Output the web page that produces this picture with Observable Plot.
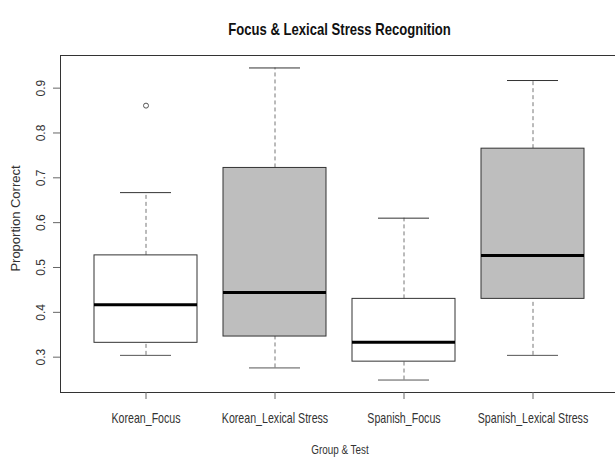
<!DOCTYPE html>
<html>
<head>
<meta charset="utf-8">
<script src="https://cdn.jsdelivr.net/npm/d3@7"></script>
<script src="https://cdn.jsdelivr.net/npm/@observablehq/plot@0.6"></script>
<style>
  html, body { margin: 0; padding: 0; background: #fff; }
  #wrap { position: relative; width: 615px; height: 459px; overflow: hidden; background: #fff; }
  #title { position: absolute; left: 0; top: 21px; width: 679px; text-align: center;
           font-family: "Liberation Sans", Arial, sans-serif; font-weight: bold; font-size: 17px; line-height: 17px; color: #111; }
  #title span { display: inline-block; transform: scaleX(0.77); transform-origin: center; white-space: nowrap; }
  #chart { position: absolute; left: 0; top: 0; }
</style>
</head>
<body>
<div id="wrap">
  <div id="chart"></div>
  <div id="title"><span>Focus &amp; Lexical Stress Recognition</span></div>
</div>
<script>
// Data (boxplot statistics)
const groups = ["Korean_Focus", "Korean_Lexical Stress", "Spanish_Focus", "Spanish_Lexical Stress"];
const whiskerLow  = [0.304, 0.276, 0.249, 0.304];
const quartile1   = [0.332, 0.346, 0.290, 0.430];
const medians     = [0.417, 0.444, 0.333, 0.527];
const quartile3   = [0.527, 0.722, 0.430, 0.765];
const whiskerHigh = [0.667, 0.945, 0.610, 0.917];
const outlierGroups = ["Korean_Focus"];
const outlierValues = [0.861];
const yTicks = [0.3, 0.4, 0.5, 0.6, 0.7, 0.8, 0.9];
const xTitle = "Group & Test";
const yTitle = "Proportion Correct";

const boxes = groups.map((g, i) => ({
  group: g, lo: whiskerLow[i], q1: quartile1[i], med: medians[i], q3: quartile3[i], hi: whiskerHigh[i]
}));
const outliers = outlierGroups.map((g, i) => ({group: g, value: outlierValues[i]}));

const font = "'Liberation Sans', Arial, sans-serif";

const chart = Plot.plot({
  width: 615,
  height: 459,
  marginTop: 55,
  marginBottom: 67,
  marginLeft: 60,
  marginRight: -4,
  style: {fontFamily: font, fontSize: "12px", color: "#333", background: "transparent", maxWidth: "none"},
  x: {domain: groups, paddingInner: 0.2, paddingOuter: 0.26, axis: null},
  y: {domain: [0.2212, 0.9728], axis: null},
  marks: [
    Plot.ruleX(boxes, {x: "group", y1: "q3", y2: "hi", stroke: "#777", strokeDasharray: "4,3"}),
    Plot.ruleX(boxes, {x: "group", y1: "lo", y2: "q1", stroke: "#777", strokeDasharray: "4,3"}),
    Plot.tickY(boxes, {x: "group", y: "hi", stroke: "#333", insetLeft: 26, insetRight: 26}),
    Plot.tickY(boxes, {x: "group", y: "lo", stroke: "#555", insetLeft: 26, insetRight: 26}),
    Plot.barY(boxes, {x: "group", y1: "q1", y2: "q3",
      fill: d => d.group.includes("Lexical") ? "#bebebe" : "#ffffff", stroke: "#333", strokeWidth: 1}),
    Plot.tickY(boxes, {x: "group", y: "med", stroke: "#000", strokeWidth: 3}),
    Plot.dot(outliers, {x: "group", y: "value", r: 2.5, stroke: "#555", strokeWidth: 1, fill: "none"}),
    Plot.frame({stroke: "#333"}),
    Plot.axisX({tickSize: 7, tickPadding: 14, fontSize: 14, label: null, stroke: "#666", fill: "#333"}),
    Plot.axisY({ticks: yTicks, tickSize: 7, tickFormat: () => "", label: null, stroke: "#666"}),
    Plot.text(yTicks, {y: d => d, text: d => d.toFixed(1), frameAnchor: "left", dx: -19, rotate: -90,
      textAnchor: "middle", lineAnchor: "middle", fontSize: 12, fill: "#333"}),
    Plot.text([yTitle], {text: d => d, frameAnchor: "left", dx: -45, dy: -5.5, rotate: -90,
      textAnchor: "middle", lineAnchor: "middle", fontSize: 13, fill: "#333"}),
    Plot.text([xTitle], {text: d => d, frameAnchor: "bottom", dy: 52, lineAnchor: "top",
      textAnchor: "middle", fontSize: 13, fill: "#333"})
  ]
});

document.getElementById("chart").appendChild(chart);

// Condense the horizontal texts, as in the reference rendering
const condensed = new Set([...groups, xTitle]);
chart.querySelectorAll("text").forEach(t => {
  if (!condensed.has(t.textContent)) return;
  const x = +(t.getAttribute("x") || 0);
  const tr = t.getAttribute("transform") || "";
  t.setAttribute("transform", `${tr} translate(${x},0) scale(0.76,1) translate(${-x},0)`);
});
</script>
</body>
</html>
